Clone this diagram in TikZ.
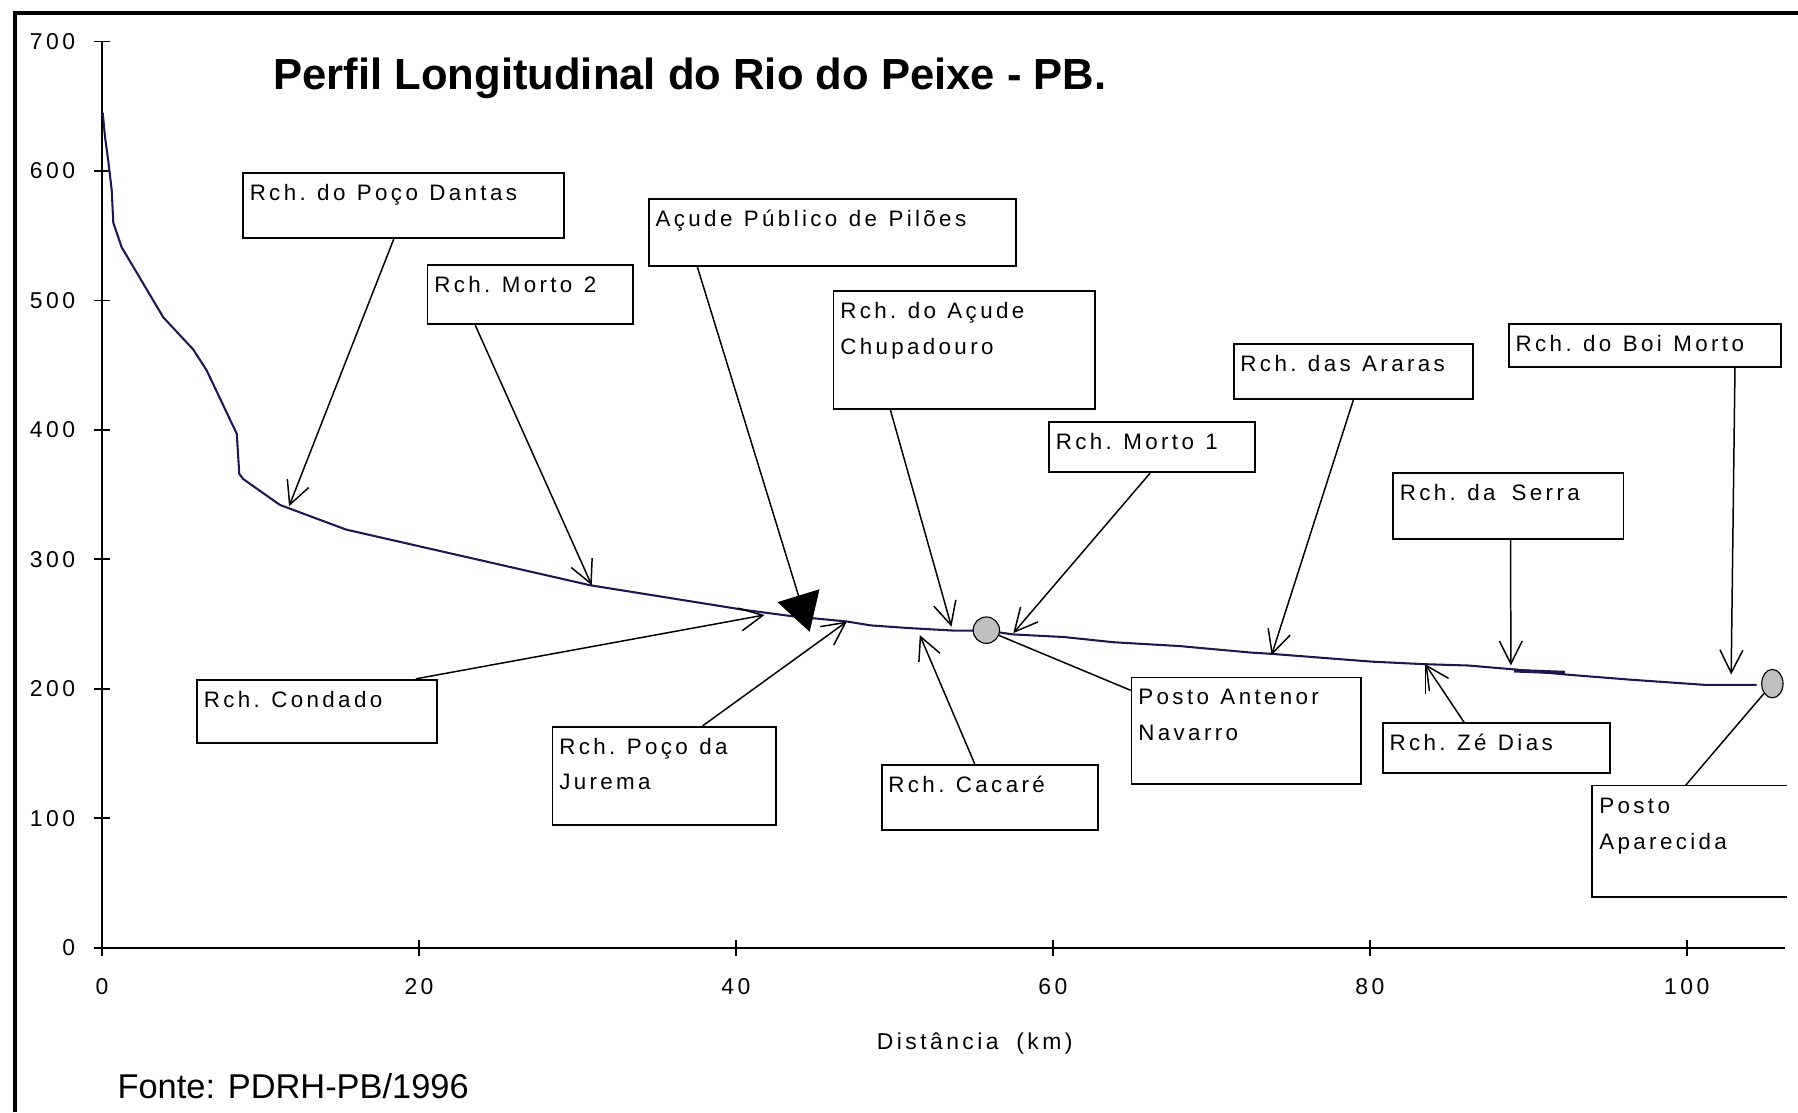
\documentclass[tikz,border=0pt]{standalone}
\usepackage{fontspec}
\setmainfont{Liberation Sans}
\newfontfamily\chartfont{Liberation Sans}
\newfontfamily\tagfont{Liberation Sans}[LetterSpace=15]
\newfontfamily\tickfont{Liberation Sans}[LetterSpace=15,WordSpace=1.8]
\usetikzlibrary{positioning,calc,arrows.meta,shapes.geometric}
\definecolor{river}{RGB}{25,25,80}
\definecolor{stngray}{RGB}{192,192,192}

\begin{document}
\begin{tikzpicture}[x=1pt,y=1pt]
    \tikzstyle{tag}=[draw,line width=1.6pt,anchor=north west,align=flush left,inner xsep=6pt,inner ysep=0pt,text height=24pt,font={\tagfont\fontsize{19.5}{31}\selectfont\spaceskip=10pt\xspaceskip=10pt\relax}]
    \tikzstyle{pin}=[line width=1.3pt,-{Straight Barb[length=20pt,width=20pt]}]
    \tikzstyle{lead}=[line width=1.3pt]
    \tikzstyle{tick}=[font={\tickfont\fontsize{20}{20}\selectfont}]
    \tikzstyle{stn}=[draw,line width=1pt,fill=stngray,inner sep=0pt]

    \useasboundingbox (0,0) rectangle (1568,970);
    \draw[line width=3.5pt] (13,0) -- (13,959) -- (1568,959);

    \node[anchor=base west,font={\chartfont\bfseries\fontsize{38}{38}\selectfont}] (title) at (235,892) {Perfil Longitudinal do Rio do Peixe - PB.};
    \node[anchor=base,tick] (xlabel) at (850,55) {Distância (km)};
    \node[anchor=base west,font={\chartfont\fontsize{30}{30}\selectfont}] (fonte) at (99,12) {Fonte: PDRH-PB/1996};

    % plot in km / m
    \begin{scope}[shift={(89,143.5)},x=13.82pt,y=1.129pt]
        \draw[line width=1.8pt] (0,700) -- (0,0) -- (106.2,0);
        \foreach \v in {0,100,...,700}{
            \draw[line width=1.5pt] ([xshift=-7pt]0,\v) -- ([xshift=7pt]0,\v);
            \node[tick,anchor=east] (y\v) at ([xshift=-20pt]0,\v) {\v};
        }
        \foreach \k in {0,20,...,100}{
            \draw[line width=1.5pt] ([yshift=-7pt]\k,0) -- ([yshift=7pt]\k,0);
            \node[tick] (x\k) at ([yshift=-34pt]\k,0) {\k};
        }

        \draw[line width=1.8pt,river] (0.04,645) -- (0.19,626) -- (0.40,607) -- (0.61,585) -- (0.71,560)
            -- (1.24,541) -- (1.97,526) -- (3.86,487) -- (5.76,462) -- (6.60,446) -- (8.50,397)
            -- (8.66,366) -- (8.91,362) -- (11.23,342) -- (15.4,323) -- (30.8,280) -- (40.5,261)
            -- (43.6,256) -- (47.0,252) -- (48.5,249) -- (50.8,247) -- (53.7,245) -- (55.8,245)
            -- (57.5,242) -- (60.7,240) -- (63.8,236) -- (68.0,233) -- (72.5,228) -- (73.8,227)
            -- (80.1,221) -- (83.5,219) -- (86.2,218) -- (89.1,215) -- (92.4,211) -- (96.5,207)
            -- (101.2,203) -- (104.4,203);
        \draw[line width=3.2pt,river] (89.1,214) -- (92.3,212.5);

        \coordinate (tDantas) at (11.8,341);
        \coordinate (tMorto2) at (30.9,280);
        \coordinate (tPiloes) at (44.65,244);
        \coordinate (tChupa) at (53.6,248);
        \coordinate (tMorto1) at (57.5,243);
        \coordinate (tAraras) at (73.8,226);
        \coordinate (tBoi) at (102.8,211);
        \coordinate (tSerra) at (88.9,218);
        \coordinate (tCondado) at (41.8,257);
        \coordinate (tJurema) at (47.0,252);
        \coordinate (tCacare) at (51.6,241.5);
        \coordinate (tZe) at (83.5,219);

        \node[stn,circle,minimum size=23pt] (c1) at (55.8,245.3) {};
        \node[stn,ellipse,minimum width=18.6pt,minimum height=24.8pt] (c2) at (105.4,204) {};
    \end{scope}

    \node[tag,text width=268pt,text depth=33pt] (dantas) at (211,820) {Rch. do Poço Dantas};
    \node[tag,text width=167pt,text depth=28pt] (morto2) at (372,740) {Rch. Morto 2};
    \node[tag,text width=308pt,text depth=34pt] (piloes) at (565,797) {Açude Público de Pilões};
    \node[tag,text width=216pt,text depth=79pt] (chupa) at (726,717) {Rch. do Açude\\Chupadouro};
    \node[tag,text width=168pt,text depth=20pt] (morto1) at (914,603) {Rch. Morto 1};
    \node[tag,text width=197pt,text depth=24pt] (araras) at (1075,671) {Rch. das Araras};
    \node[tag,text width=225pt,text depth=13pt] (boimorto) at (1315,688) {Rch. do Boi Morto};
    \node[tag,text width=189pt,text depth=33pt] (serra) at (1214,558) {Rch. da\hspace{14pt}Serra};
    \node[tag,text width=197pt,text depth=31pt] (condado) at (171,378) {Rch. Condado};
    \node[tag,text width=183pt,text depth=62pt] (jurema) at (481,337) {Rch. Poço da\\Jurema};
    \node[tag,text width=177pt,text depth=33pt] (cacare) at (768,304) {Rch. Cacaré};
    \node[tag,text width=188pt,text depth=69pt] (antenor) at (986,380) {Posto Antenor\\Navarro};
    \node[tag,text width=186pt,text depth=19pt] (zedias) at (1205,340) {Rch. Zé Dias};
    \node[tag,draw=none,text width=157pt,text depth=72pt] (aparecida) at (1388,285) {Posto\\Aparecida};
    \draw[line width=1.6pt] (aparecida.north east) -- (aparecida.north west) -- (aparecida.south west) -- (aparecida.south east);

    \draw[pin] ($(dantas.south west)!.47!(dantas.south east)$) -- (tDantas);
    \draw[pin] ($(morto2.south west)!.235!(morto2.south east)$) -- (tMorto2);
    \draw[lead,-{Triangle[length=33pt,width=38pt]}] ($(piloes.south west)!.134!(piloes.south east)$) -- (tPiloes);
    \draw[pin] ($(chupa.south west)!.22!(chupa.south east)$) -- (tChupa);
    \draw[pin] ($(morto1.south west)!.49!(morto1.south east)$) -- (tMorto1);
    \draw[pin] ($(araras.south west)!.5!(araras.south east)$) -- (tAraras);
    \draw[pin] ($(boimorto.south west)!.83!(boimorto.south east)$) -- (tBoi);
    \draw[pin] ($(serra.south west)!.51!(serra.south east)$) -- (tSerra);
    \draw[pin] ($(condado.north west)!.91!(condado.north east)$) -- (tCondado);
    \draw[pin] ($(jurema.north west)!.67!(jurema.north east)$) -- (tJurema);
    \draw[pin] ($(cacare.north west)!.43!(cacare.north east)$) -- (tCacare);
    \draw[pin] ($(zedias.north west)!.36!(zedias.north east)$) -- (tZe);
    \draw[lead] (tZe) -- ++(0pt,-26pt);
    \draw[lead] (c1) -- ($(antenor.north west)+(0,-12)$);
    \draw[lead] ($(aparecida.north west)!.48!(aparecida.north east)$) -- (c2);
\end{tikzpicture}
\end{document}
